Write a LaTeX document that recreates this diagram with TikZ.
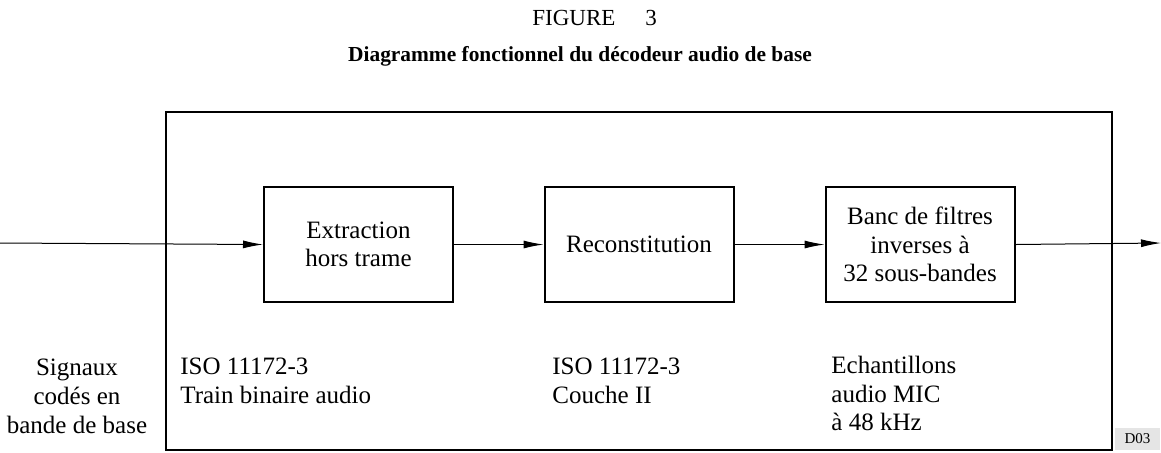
\documentclass[tikz,border=0pt]{standalone}
\usepackage{fontspec}
\setmainfont{Liberation Serif}
\usetikzlibrary{arrows.meta}
\begin{document}
\begin{tikzpicture}[x=0.5pt,y=-0.5pt,
  blk/.style={draw,line width=1pt,minimum width=94.5pt,minimum height=57.5pt,inner sep=0pt,align=center,font=\fontsize{12.5}{14.3}\selectfont},
  lbl/.style={inner sep=0pt,font=\fontsize{12.5}{14.3}\selectfont},
  flow/.style={line width=0.5pt,-{Latex[length=10pt,width=4pt]}}]
\useasboundingbox (0,0) rectangle (1161,452);
\node[inner sep=0pt,anchor=base west,font=\fontsize{11.5}{13}\selectfont] (title) at (532,25) {FIGURE\hspace{15pt}3};
\node[inner sep=0pt,anchor=base,font=\fontsize{10.7}{12}\selectfont\bfseries] (sub) at (580,61) {Diagramme fonctionnel du décodeur audio de base};
\node[draw,line width=1pt,minimum width=473pt,minimum height=169pt,inner sep=0pt] (frame) at (639,280.6) {};
\node[blk] (b1) at (358.5,244.5) {Extraction\\hors trame};
\node[blk] (b2) at (639,244.5) {Reconstitution};
\node[blk] (b3) at (920,244.5) {Banc de filtres\\inverses à\\32 sous-bandes};
\coordinate (in) at (0,243);
\coordinate (out) at (1161,243);
\draw[flow] (in) -- (b1.west);
\draw[flow] (b1.east) -- (b2.west);
\draw[flow] (b2.east) -- (b3.west);
\draw[flow] (b3.east) -- (out);
\node[lbl,align=center,anchor=north] (sig) at (77,359) {Signaux\\codés en\\bande de base};
\node[lbl,align=left,anchor=north west] (iso1) at (180,357.5) {ISO 11172-3\\Train binaire audio};
\node[lbl,align=left,anchor=north west] (iso2) at (552,357.5) {ISO 11172-3\\Couche II};
\node[lbl,align=left,anchor=north west] (ech) at (831,356) {Echantillons\\audio MIC\\à 48 kHz};
\node[fill=black!10,minimum width=22.5pt,minimum height=11pt,inner sep=0pt,font=\fontsize{7.5}{8}\selectfont] (d03) at (1137.5,439) {D03};
\end{tikzpicture}
\end{document}
